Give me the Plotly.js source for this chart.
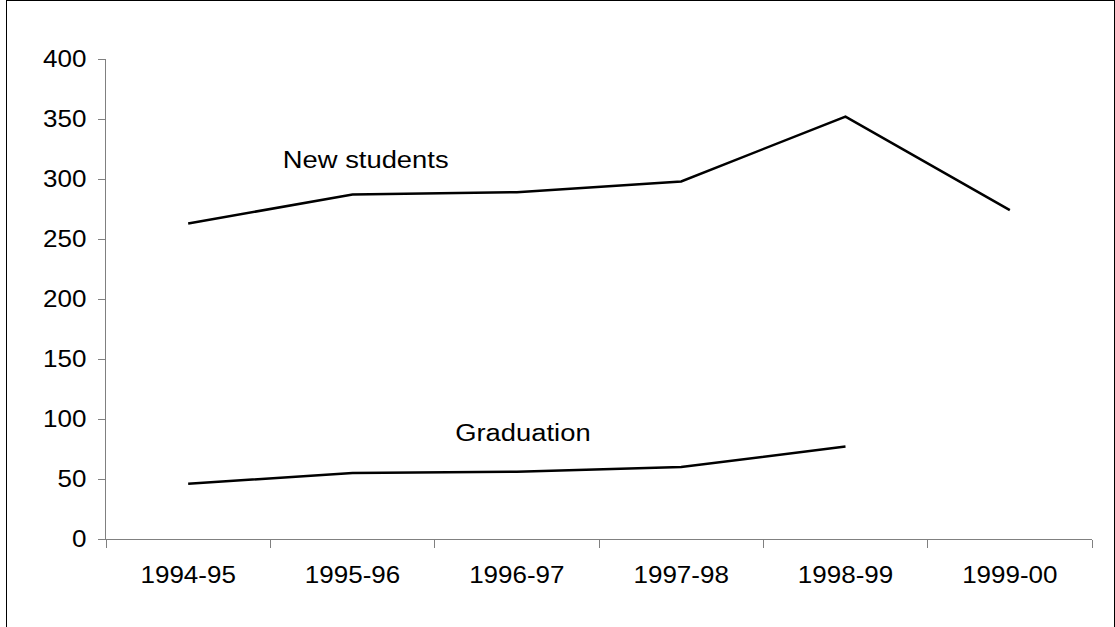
<!DOCTYPE html>
<html>
<head>
<meta charset="utf-8">
<script src="https://cdn.plot.ly/plotly-3.0.1.min.js"></script>
<style>
  html, body { margin: 0; padding: 0; background: #fff; }
  #chart { position: absolute; left: 0; top: 0; width: 1115px; height: 627px; }
  #frame { position: absolute; left: 6px; top: 0; width: 1109px; height: 640px; box-sizing: border-box; border: 1px solid #000; pointer-events: none; }
</style>
</head>
<body>
<div id="chart"></div>
<div id="frame"></div>
<script>
const years = ["1994-95", "1995-96", "1996-97", "1997-98", "1998-99", "1999-00"];
const newStudents = [263, 287, 289, 298, 352, 274];
const graduation = [46, 55, 56, 60, 77, null];
const yTicks = [0, 50, 100, 150, 200, 250, 300, 350, 400];
const seriesLabels = ["New students", "Graduation"];

const font = { family: "Liberation Sans, Arial, sans-serif", size: 23, color: "#000" };

const traces = [
  { x: years, y: newStudents, type: "scatter", mode: "lines", name: seriesLabels[0],
    line: { color: "#000", width: 2.5 }, connectgaps: false },
  { x: years, y: graduation, type: "scatter", mode: "lines", name: seriesLabels[1],
    line: { color: "#000", width: 2.5 }, connectgaps: false }
];

const layout = {
  width: 1115, height: 627,
  margin: { l: 106, r: 23, t: 59, b: 88 },
  paper_bgcolor: "#fff", plot_bgcolor: "#fff",
  showlegend: false,
  font: font,
  xaxis: {
    type: "category", categoryorder: "array", categoryarray: years,
    range: [-0.5, 5.5], showgrid: false, zeroline: false,
    showline: true, linecolor: "#808080", linewidth: 1,
    ticks: "outside", tickson: "boundaries", ticklen: 8, tickcolor: "#808080", tickwidth: 1,
    tickfont: font, ticklabelstandoff: 15
  },
  yaxis: {
    range: [0, 400], tickvals: yTicks, ticktext: yTicks.map(String),
    showgrid: false, zeroline: false,
    showline: true, linecolor: "#808080", linewidth: 1,
    ticks: "outside", ticklen: 7, tickcolor: "#808080", tickwidth: 1,
    tickfont: font, ticklabelstandoff: 7
  },
  annotations: [
    { x: 1.08, y: 316, xref: "x", yref: "y", text: seriesLabels[0], showarrow: false, font: font },
    { x: 2.04, y: 88, xref: "x", yref: "y", text: seriesLabels[1], showarrow: false, font: font }
  ]
};

function stretch(sel, f) {
  document.querySelectorAll(sel).forEach(function (t) {
    const w = t.getComputedTextLength();
    t.setAttribute("textLength", (w * f).toFixed(1));
    t.setAttribute("lengthAdjust", "spacingAndGlyphs");
  });
}

Plotly.newPlot("chart", traces, layout, { displayModeBar: false, staticPlot: true }).then(function () {
  stretch(".xtick text, .ytick text", 1.13);
  stretch(".annotation-text", 1.19);
});
</script>
</body>
</html>
